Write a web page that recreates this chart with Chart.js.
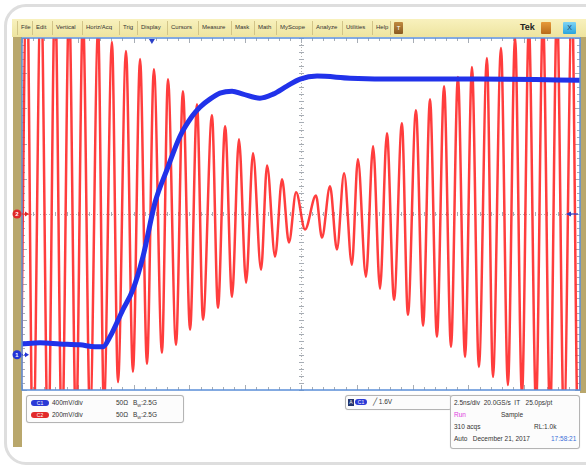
<!DOCTYPE html>
<html>
<head>
<meta charset="utf-8">
<script src="https://cdn.jsdelivr.net/npm/chart.js@4.4.1/dist/chart.umd.min.js"></script>
<style>
  body { margin: 0; width: 586px; height: 466px; background: #fff; position: relative; overflow: hidden; font-family: "Liberation Sans", Arial, sans-serif; }
  .frame { position: absolute; left: 4px; top: 4px; width: 600px; height: 455px; border: 3px solid #dedede; border-radius: 22px; }
  .menu { position: absolute; left: 12px; top: 19px; width: 576px; height: 18px; background: linear-gradient(#f8f1bd, #eee49f); }
  .menu span { position: absolute; top: 5px; font-size: 6px; color: #333; white-space: nowrap; }
  .menu i { position: absolute; top: 2px; width: 1px; height: 14px; background: #d2c487; }
  .strip { position: absolute; background: #b9a76c; }
  .plot { position: absolute; left: 12px; top: 37px; width: 574px; height: 355px; }
  .box { position: absolute; border: 1px solid #b4b4b4; border-radius: 3px; background: #fcfcfc; box-shadow: 0 0 1px #ccc; font-size: 6.5px; color: #333; }
  .box span { position: absolute; white-space: nowrap; }
  .pill { position: absolute; height: 6px; border-radius: 3px; color: #fff; font-size: 5px; line-height: 6px; text-align: center; }
</style>
</head>
<body>
<div class="frame"></div>
<div class="menu" id="menu"></div>
<div class="strip" style="left:13px; top:37px; width:9px; height:410px;"></div>
<div class="strip" style="left:580px; top:37px; width:8px; height:356px;"></div>
<div class="plot"><canvas id="scope"></canvas></div>

<div class="box" style="left:26px; top:395px; width:156px; height:26px;">
  <div class="pill" style="left:4px; top:4px; width:18px; background:#2b3ad6;">C1</div>
  <span style="left:25px; top:3px;">400mV/div</span>
  <span style="left:89px; top:3px;">50Ω</span>
  <span style="left:106px; top:3px;">B<sub style="font-size:4px">W</sub>:2.5G</span>
  <div class="pill" style="left:4px; top:16px; width:18px; background:#e22a2a;">C2</div>
  <span style="left:25px; top:15px;">200mV/div</span>
  <span style="left:89px; top:15px;">50Ω</span>
  <span style="left:106px; top:15px;">B<sub style="font-size:4px">W</sub>:2.5G</span>
</div>

<div class="box" style="left:345px; top:395px; width:105px; height:13px;">
  <div style="position:absolute; left:2px; top:3px; width:6px; height:7px; background:#24356e; color:#fff; font-size:5px; line-height:7px; text-align:center;">A</div>
  <div class="pill" style="left:9px; top:3px; width:12px; background:#2b3ad6;">C1</div>
  <span style="left:27px; top:2px;">╱ 1.6V</span>
</div>

<div class="box" style="left:450px; top:395px; width:128px; height:52px;">
  <span style="left:3px; top:3px;">2.5ns/div&nbsp;&nbsp;20.0GS/s&nbsp;&nbsp;IT&nbsp;&nbsp;&nbsp;25.0ps/pt</span>
  <span style="left:3px; top:15px; color:#e040e0;">Run</span>
  <span style="left:50px; top:15px;">Sample</span>
  <span style="left:3px; top:27px;">310 acqs</span>
  <span style="left:83px; top:27px;">RL:1.0k</span>
  <span style="left:3px; top:39px;">Auto&nbsp;&nbsp;&nbsp;December 21, 2017</span>
  <span style="left:100px; top:39px; color:#3a6fd8;">17:58:21</span>
</div>

<script>
// menu bar of the scope window
const MENU_ITEMS = ['File', 'Edit', 'Vertical', 'Horiz/Acq', 'Trig', 'Display', 'Cursors', 'Measure', 'Mask', 'Math', 'MyScope', 'Analyze', 'Utilities', 'Help'];
const MENU_LEFT = [9, 24, 44, 74, 111, 129, 159, 190, 223, 246, 268, 304, 334, 364];

// CH1 (blue), volts vs time in ns
const CH1_TIME = [-12.5, -11.69, -10.8, -9.9, -9.23, -8.87, -8.56, -7.98, -7.53, -7.08, -6.54, -6.0, -5.42, -4.88, -4.53, -4.08, -3.63, -3.09, -2.6, -1.84, -1.25, -0.63, -0.04, 0.72, 2.2, 4.44, 8.02, 12.5];
const CH1_VOLTS = [0.124, 0.136, 0.124, 0.113, 0.091, 0.091, 0.204, 0.512, 0.74, 1.116, 1.731, 2.107, 2.484, 2.711, 2.814, 2.905, 2.973, 2.996, 2.962, 2.916, 2.962, 3.053, 3.133, 3.167, 3.144, 3.133, 3.133, 3.121];

// CH2 (red), peaks and troughs, mV vs time in ns
const CH2_TIME = [-12.59, -12.28, -12.01, -11.65, -11.33, -11.02, -10.71, -10.39, -10.08, -9.77, -9.45, -9.09, -8.83, -8.47, -8.2, -7.84, -7.53, -7.21, -6.9, -6.59, -6.23, -5.96, -5.6, -5.29, -4.97, -4.66, -4.39, -3.99, -3.72, -3.4, -3.09, -2.78, -2.46, -2.15, -1.79, -1.52, -1.16, -0.85, -0.54, -0.22, 0.18, 0.67, 0.94, 1.3, 1.61, 1.93, 2.28, 2.55, 2.91, 3.23, 3.54, 3.85, 4.17, 4.52, 4.79, 5.15, 5.47, 5.78, 6.09, 6.41, 6.72, 7.03, 7.35, 7.66, 7.97, 8.33, 8.6, 8.96, 9.27, 9.59, 9.9, 10.21, 10.53, 10.84, 11.16, 11.47, 11.78, 12.14, 12.41, 12.77];
const CH2_MV = [-1450, 1396, -1420, 1333, -1365, 1265, -1300, 1197, -1230, 1128, -1160, 1054, -1090, 977, -955, 926, -897, 880, -852, 823, -789, 766, -744, 698, -658, 624, -601, 561, -533, 499, -470, 425, -390, 345, -316, 276, -242, 197, -162, 123, -88, 105, -134, 157, -202, 231, -288, 311, -356, 385, -425, 459, -487, 516, -573, 590, -635, 652, -698, 726, -755, 778, -812, 835, -869, 886, -926, 943, -971, 1003, -1030, 1065, -1090, 1123, -1150, 1180, -1205, 1236, -1260, 1290];

const TRIG_TIME = -6.68;   // ns
const TRIG_LEVEL = 1.6;    // V on CH1

const menu = document.getElementById('menu');
MENU_ITEMS.forEach((label, i) => {
    menu.insertAdjacentHTML('beforeend', `<span style="left:${MENU_LEFT[i]}px">${label}</span><i style="left:${MENU_LEFT[i] - 4}px"></i>`);
});
menu.insertAdjacentHTML('beforeend', `
    <i style="left:378px"></i>
    <div style="position:absolute; left:382px; top:3px; width:9px; height:12px; background:linear-gradient(#c08a40,#8a5a20); border-radius:1px; color:#fff; font-size:6px; text-align:center; line-height:12px;">T</div>
    <span style="left:508px; top:3px; font-size:9px; font-weight:bold; color:#222;">Tek</span>
    <div style="position:absolute; left:529px; top:3px; width:10px; height:12px; background:linear-gradient(#e79a3a,#b86a1a); border-radius:1px;"></div>
    <div style="position:absolute; left:551px; top:3px; width:13px; height:12px; background:linear-gradient(#7fd4f4,#2aa4dc); border-radius:1px; color:#1a3a6a; font-size:7px; text-align:center; line-height:12px;">X</div>
`);

const toPoints = (xs, ys) => xs.map((x, i) => ({ x: x, y: ys[i] }));

// graticule: white field, dotted centre cross, edge and centre ticks
const graticule = {
    id: 'graticule',
    beforeDatasetsDraw(chart) {
        const { ctx, chartArea: a, scales } = chart;
        const cx = scales.x.getPixelForValue(0);
        const cy = scales.y2.getPixelForValue(0);
        ctx.save();
        ctx.fillStyle = '#ffffff';
        ctx.fillRect(a.left, a.top, a.right - a.left, a.bottom - a.top);

        ctx.strokeStyle = '#b5b5b5';
        ctx.lineWidth = 1;
        ctx.setLineDash([1, 2]);
        ctx.beginPath();
        ctx.moveTo(cx + 0.5, a.top); ctx.lineTo(cx + 0.5, a.bottom);
        ctx.moveTo(a.left, Math.round(cy) + 0.5); ctx.lineTo(a.right, Math.round(cy) + 0.5);
        ctx.stroke();
        ctx.setLineDash([]);

        ctx.strokeStyle = '#a7adb5';
        ctx.beginPath();
        for (let t = -12.5; t <= 12.5001; t += 0.5) {
            const px = Math.round(scales.x.getPixelForValue(t)) + 0.5;
            const len = Math.abs(t / 2.5 - Math.round(t / 2.5)) < 0.01 ? 5 : 3;
            ctx.moveTo(px, a.top); ctx.lineTo(px, a.top + len);
            ctx.moveTo(px, a.bottom); ctx.lineTo(px, a.bottom - len);
            ctx.moveTo(px, cy - 2); ctx.lineTo(px, cy + 2);
        }
        for (let v = -1000; v <= 1000; v += 40) {
            const py = Math.round(scales.y2.getPixelForValue(v)) + 0.5;
            const len = v % 200 === 0 ? 5 : 3;
            ctx.moveTo(a.left, py); ctx.lineTo(a.left + len, py);
            ctx.moveTo(a.right, py); ctx.lineTo(a.right - len, py);
            ctx.moveTo(cx - 2, py); ctx.lineTo(cx + 3, py);
        }
        ctx.stroke();
        ctx.restore();
    },
    afterDatasetsDraw(chart) {
        const { ctx, chartArea: a, scales } = chart;
        ctx.save();
        ctx.strokeStyle = '#5b8fd8';
        ctx.lineWidth = 1.5;
        ctx.strokeRect(a.left, a.top, a.right - a.left, a.bottom - a.top);

        // channel ground markers
        const marker = (y, color, label) => {
            ctx.strokeStyle = color;
            ctx.lineWidth = 1;
            ctx.setLineDash([1, 1]);
            ctx.beginPath(); ctx.moveTo(a.left - 2, y); ctx.lineTo(a.left + 5, y); ctx.stroke();
            ctx.setLineDash([]);
            ctx.fillStyle = color;
            ctx.beginPath(); ctx.moveTo(a.left + 7, y); ctx.lineTo(a.left + 3, y - 2.5); ctx.lineTo(a.left + 3, y + 2.5); ctx.fill();
            ctx.beginPath(); ctx.arc(a.left - 5, y, 4.5, 0, Math.PI * 2); ctx.fill();
            ctx.fillStyle = '#fff';
            ctx.font = 'bold 6px "Liberation Sans", Arial';
            ctx.textAlign = 'center'; ctx.textBaseline = 'middle';
            ctx.fillText(label, a.left - 5, y + 0.5);
        };
        marker(scales.y2.getPixelForValue(0), '#e02828', '2');
        marker(scales.y1.getPixelForValue(0), '#2233d6', '1');

        // trigger position (top) and trigger level (right)
        const tx = scales.x.getPixelForValue(TRIG_TIME);
        ctx.fillStyle = '#2a3fc8';
        ctx.beginPath(); ctx.moveTo(tx - 3, a.top + 1); ctx.lineTo(tx + 3, a.top + 1); ctx.lineTo(tx, a.top + 6); ctx.fill();
        const ty = scales.y1.getPixelForValue(TRIG_LEVEL);
        ctx.beginPath(); ctx.moveTo(a.right - 14, ty); ctx.lineTo(a.right - 9, ty - 2.5); ctx.lineTo(a.right - 9, ty + 2.5); ctx.fill();
        ctx.strokeStyle = '#2a3fc8';
        ctx.lineWidth = 1.2;
        ctx.beginPath(); ctx.moveTo(a.right - 10, ty); ctx.lineTo(a.right - 2, ty); ctx.stroke();
        ctx.restore();
    }
};

new Chart(document.getElementById('scope'), {
    type: 'line',
    data: {
        datasets: [
            {
                label: 'CH1',
                data: toPoints(CH1_TIME, CH1_VOLTS),
                yAxisID: 'y1',
                borderColor: '#2132ea',
                borderWidth: 5,
                cubicInterpolationMode: 'monotone',
                pointRadius: 0,
                clip: 0
            },
            {
                label: 'CH2',
                data: toPoints(CH2_TIME, CH2_MV),
                yAxisID: 'y2',
                borderColor: 'rgba(255, 40, 40, 0.9)',
                borderWidth: 2.5,
                cubicInterpolationMode: 'monotone',
                pointRadius: 0,
                clip: 0
            }
        ]
    },
    options: {
        responsive: true,
        maintainAspectRatio: false,
        animation: false,
        layout: { padding: { left: 10, right: 6, top: 1, bottom: 2 } },
        plugins: { legend: { display: false }, tooltip: { enabled: false } },
        scales: {
            x: { type: 'linear', min: -12.5, max: 12.5, display: false },
            y1: { type: 'linear', min: -0.4, max: 3.6, display: false },
            y2: { type: 'linear', min: -1000, max: 1000, display: false }
        }
    },
    plugins: [graticule]
});
</script>
</body>
</html>
